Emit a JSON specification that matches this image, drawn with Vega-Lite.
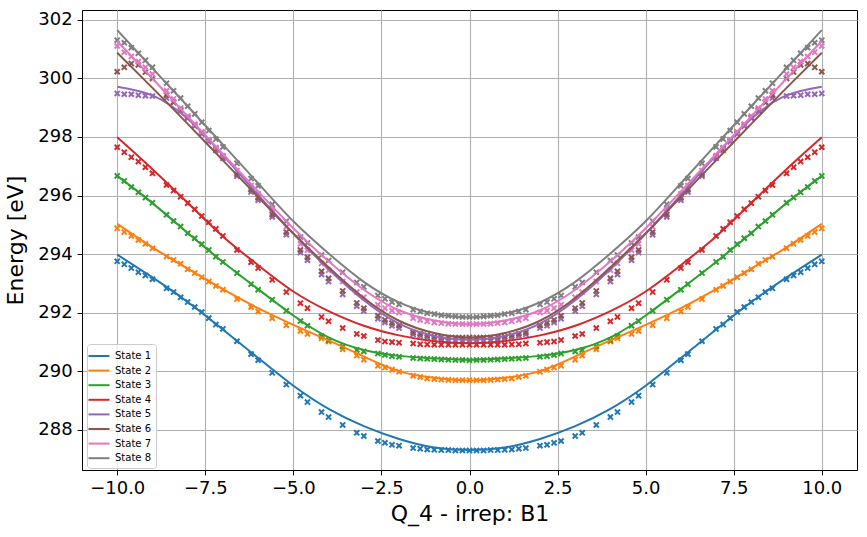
{
  "$schema": "https://vega.github.io/schema/vega-lite/v6.json",
  "width": 775,
  "height": 460,
  "autosize": "none",
  "padding": {"left": 82, "top": 10, "right": 10, "bottom": 67},
  "background": "white",
  "config": {
    "font": "DejaVu Sans",
    "view": {"stroke": "black", "strokeWidth": 1},
    "axis": {
      "labelFont": "DejaVu Sans", "labelFontSize": 18, "labelColor": "black",
      "tickColor": "black", "tickSize": 4.9, "tickWidth": 1, "labelPadding": 4.9,
      "domainColor": "black", "domainWidth": 1,
      "gridColor": "#b0b0b0", "gridWidth": 1.1, "gridOpacity": 1,
      "titleFont": "DejaVu Sans", "titleFontSize": 22, "titleFontWeight": "normal", "titleColor": "black"
    }
  },
  "datasets": {
    "points": [
      {"q": -10, "s1": 293.75, "s2": 294.88, "s3": 296.67, "s4": 297.65, "s5": 299.49, "s6": 300.23, "s7": 301.11, "s8": 301.31},
      {"q": -9.8, "s1": 293.65, "s2": 294.75, "s3": 296.50, "s4": 297.48, "s5": 299.46, "s6": 300.38, "s7": 300.90, "s8": 301.22},
      {"q": -9.6, "s1": 293.52, "s2": 294.62, "s3": 296.29, "s4": 297.31, "s5": 299.46, "s6": 300.51, "s7": 300.75, "s8": 301.05},
      {"q": -9.4, "s1": 293.38, "s2": 294.48, "s3": 296.11, "s4": 297.16, "s5": 299.43, "s6": 300.46, "s7": 300.58, "s8": 300.86},
      {"q": -9.2, "s1": 293.27, "s2": 294.35, "s3": 295.93, "s4": 296.97, "s5": 299.41, "s6": 300.22, "s7": 300.38, "s8": 300.62},
      {"q": -9.0, "s1": 293.14, "s2": 294.20, "s3": 295.75, "s4": 296.76, "s5": 299.40, "s6": 300.00, "s7": 300.15, "s8": 300.38},
      {"q": -8.6, "s1": 292.83, "s2": 293.92, "s3": 295.34, "s4": 296.36, "s5": 299.33, "s6": 299.43, "s7": 299.58, "s8": 299.84},
      {"q": -8.4, "s1": 292.70, "s2": 293.80, "s3": 295.13, "s4": 296.17, "s5": 299.20, "s6": 299.18, "s7": 299.30, "s8": 299.58},
      {"q": -8.2, "s1": 292.52, "s2": 293.67, "s3": 294.94, "s4": 295.96, "s5": 298.90, "s6": 298.93, "s7": 298.99, "s8": 299.33},
      {"q": -8.0, "s1": 292.36, "s2": 293.48, "s3": 294.71, "s4": 295.74, "s5": 298.64, "s6": 298.68, "s7": 298.72, "s8": 299.05},
      {"q": -7.8, "s1": 292.19, "s2": 293.35, "s3": 294.54, "s4": 295.53, "s5": 298.37, "s6": 298.42, "s7": 298.44, "s8": 298.79},
      {"q": -7.6, "s1": 292.02, "s2": 293.21, "s3": 294.34, "s4": 295.30, "s5": 298.10, "s6": 298.16, "s7": 298.17, "s8": 298.50},
      {"q": -7.4, "s1": 291.81, "s2": 293.06, "s3": 294.14, "s4": 295.09, "s5": 297.84, "s6": 297.90, "s7": 297.90, "s8": 298.22},
      {"q": -7.2, "s1": 291.59, "s2": 292.91, "s3": 293.91, "s4": 294.86, "s5": 297.54, "s6": 297.60, "s7": 297.64, "s8": 297.93},
      {"q": -7.0, "s1": 291.44, "s2": 292.78, "s3": 293.73, "s4": 294.62, "s5": 297.27, "s6": 297.33, "s7": 297.36, "s8": 297.66},
      {"q": -6.6, "s1": 291.02, "s2": 292.46, "s3": 293.35, "s4": 294.14, "s5": 296.66, "s6": 296.73, "s7": 296.85, "s8": 297.10},
      {"q": -6.2, "s1": 290.58, "s2": 292.19, "s3": 292.97, "s4": 293.72, "s5": 296.12, "s6": 296.20, "s7": 296.34, "s8": 296.58},
      {"q": -6.0, "s1": 290.37, "s2": 292.04, "s3": 292.78, "s4": 293.52, "s5": 295.84, "s6": 295.92, "s7": 296.06, "s8": 296.33},
      {"q": -5.6, "s1": 289.94, "s2": 291.81, "s3": 292.44, "s4": 293.12, "s5": 295.27, "s6": 295.35, "s7": 295.54, "s8": 295.70},
      {"q": -5.2, "s1": 289.54, "s2": 291.57, "s3": 292.06, "s4": 292.70, "s5": 294.66, "s6": 294.75, "s7": 294.93, "s8": 295.12},
      {"q": -4.8, "s1": 289.16, "s2": 291.37, "s3": 291.71, "s4": 292.32, "s5": 294.05, "s6": 294.14, "s7": 294.35, "s8": 294.58},
      {"q": -4.6, "s1": 288.94, "s2": 291.27, "s3": 291.55, "s4": 292.15, "s5": 293.79, "s6": 293.89, "s7": 294.13, "s8": 294.38},
      {"q": -4.2, "s1": 288.60, "s2": 291.12, "s3": 291.20, "s4": 291.85, "s5": 293.30, "s6": 293.41, "s7": 293.68, "s8": 293.97},
      {"q": -4.0, "s1": 288.43, "s2": 291.01, "s3": 291.05, "s4": 291.70, "s5": 293.06, "s6": 293.17, "s7": 293.45, "s8": 293.78},
      {"q": -3.6, "s1": 288.16, "s2": 290.75, "s3": 290.84, "s4": 291.47, "s5": 292.62, "s6": 292.74, "s7": 293.06, "s8": 293.38},
      {"q": -3.2, "s1": 287.89, "s2": 290.53, "s3": 290.72, "s4": 291.27, "s5": 292.22, "s6": 292.33, "s7": 292.70, "s8": 293.03},
      {"q": -3.0, "s1": 287.78, "s2": 290.39, "s3": 290.67, "s4": 291.20, "s5": 292.05, "s6": 292.15, "s7": 292.52, "s8": 292.88},
      {"q": -2.6, "s1": 287.61, "s2": 290.18, "s3": 290.60, "s4": 291.06, "s5": 291.79, "s6": 291.89, "s7": 292.27, "s8": 292.58},
      {"q": -2.4, "s1": 287.55, "s2": 290.12, "s3": 290.55, "s4": 291.01, "s5": 291.66, "s6": 291.75, "s7": 292.15, "s8": 292.47},
      {"q": -2.2, "s1": 287.48, "s2": 290.05, "s3": 290.51, "s4": 290.99, "s5": 291.55, "s6": 291.64, "s7": 292.07, "s8": 292.36},
      {"q": -2.0, "s1": 287.45, "s2": 289.98, "s3": 290.49, "s4": 290.97, "s5": 291.47, "s6": 291.56, "s7": 292.00, "s8": 292.28},
      {"q": -1.6, "s1": 287.37, "s2": 289.84, "s3": 290.45, "s4": 290.94, "s5": 291.25, "s6": 291.32, "s7": 291.81, "s8": 292.10},
      {"q": -1.4, "s1": 287.35, "s2": 289.80, "s3": 290.43, "s4": 290.92, "s5": 291.20, "s6": 291.27, "s7": 291.75, "s8": 292.04},
      {"q": -1.2, "s1": 287.32, "s2": 289.75, "s3": 290.42, "s4": 290.91, "s5": 291.15, "s6": 291.22, "s7": 291.70, "s8": 291.98},
      {"q": -1.0, "s1": 287.31, "s2": 289.73, "s3": 290.41, "s4": 290.90, "s5": 291.11, "s6": 291.18, "s7": 291.66, "s8": 291.95},
      {"q": -0.8, "s1": 287.30, "s2": 289.71, "s3": 290.40, "s4": 290.90, "s5": 291.08, "s6": 291.16, "s7": 291.64, "s8": 291.91},
      {"q": -0.6, "s1": 287.30, "s2": 289.70, "s3": 290.39, "s4": 290.90, "s5": 291.06, "s6": 291.15, "s7": 291.62, "s8": 291.89},
      {"q": -0.4, "s1": 287.29, "s2": 289.69, "s3": 290.38, "s4": 290.90, "s5": 291.05, "s6": 291.15, "s7": 291.61, "s8": 291.87},
      {"q": -0.2, "s1": 287.29, "s2": 289.69, "s3": 290.38, "s4": 290.90, "s5": 291.05, "s6": 291.15, "s7": 291.61, "s8": 291.85},
      {"q": 0, "s1": 287.29, "s2": 289.69, "s3": 290.37, "s4": 290.90, "s5": 291.05, "s6": 291.15, "s7": 291.61, "s8": 291.85},
      {"q": 0.2, "s1": 287.29, "s2": 289.69, "s3": 290.38, "s4": 290.90, "s5": 291.05, "s6": 291.15, "s7": 291.61, "s8": 291.85},
      {"q": 0.4, "s1": 287.29, "s2": 289.69, "s3": 290.38, "s4": 290.90, "s5": 291.05, "s6": 291.15, "s7": 291.61, "s8": 291.87},
      {"q": 0.6, "s1": 287.30, "s2": 289.70, "s3": 290.39, "s4": 290.90, "s5": 291.06, "s6": 291.15, "s7": 291.62, "s8": 291.89},
      {"q": 0.8, "s1": 287.30, "s2": 289.71, "s3": 290.40, "s4": 290.90, "s5": 291.08, "s6": 291.16, "s7": 291.64, "s8": 291.91},
      {"q": 1.0, "s1": 287.31, "s2": 289.73, "s3": 290.41, "s4": 290.90, "s5": 291.11, "s6": 291.18, "s7": 291.66, "s8": 291.95},
      {"q": 1.2, "s1": 287.32, "s2": 289.75, "s3": 290.42, "s4": 290.91, "s5": 291.15, "s6": 291.22, "s7": 291.70, "s8": 291.98},
      {"q": 1.4, "s1": 287.35, "s2": 289.80, "s3": 290.43, "s4": 290.92, "s5": 291.20, "s6": 291.27, "s7": 291.75, "s8": 292.04},
      {"q": 1.6, "s1": 287.37, "s2": 289.84, "s3": 290.45, "s4": 290.94, "s5": 291.25, "s6": 291.32, "s7": 291.81, "s8": 292.10},
      {"q": 2.0, "s1": 287.45, "s2": 289.98, "s3": 290.49, "s4": 290.97, "s5": 291.47, "s6": 291.56, "s7": 292.00, "s8": 292.28},
      {"q": 2.2, "s1": 287.48, "s2": 290.05, "s3": 290.51, "s4": 290.99, "s5": 291.55, "s6": 291.64, "s7": 292.07, "s8": 292.36},
      {"q": 2.4, "s1": 287.55, "s2": 290.12, "s3": 290.55, "s4": 291.01, "s5": 291.66, "s6": 291.75, "s7": 292.15, "s8": 292.47},
      {"q": 2.6, "s1": 287.61, "s2": 290.18, "s3": 290.60, "s4": 291.06, "s5": 291.79, "s6": 291.89, "s7": 292.27, "s8": 292.58},
      {"q": 3.0, "s1": 287.78, "s2": 290.39, "s3": 290.67, "s4": 291.20, "s5": 292.05, "s6": 292.15, "s7": 292.52, "s8": 292.88},
      {"q": 3.2, "s1": 287.89, "s2": 290.53, "s3": 290.72, "s4": 291.27, "s5": 292.22, "s6": 292.33, "s7": 292.70, "s8": 293.03},
      {"q": 3.6, "s1": 288.16, "s2": 290.75, "s3": 290.84, "s4": 291.47, "s5": 292.62, "s6": 292.74, "s7": 293.06, "s8": 293.38},
      {"q": 4.0, "s1": 288.43, "s2": 291.01, "s3": 291.05, "s4": 291.70, "s5": 293.06, "s6": 293.17, "s7": 293.45, "s8": 293.78},
      {"q": 4.2, "s1": 288.60, "s2": 291.12, "s3": 291.20, "s4": 291.85, "s5": 293.30, "s6": 293.41, "s7": 293.68, "s8": 293.97},
      {"q": 4.6, "s1": 288.94, "s2": 291.27, "s3": 291.55, "s4": 292.15, "s5": 293.79, "s6": 293.89, "s7": 294.13, "s8": 294.38},
      {"q": 4.8, "s1": 289.16, "s2": 291.37, "s3": 291.71, "s4": 292.32, "s5": 294.05, "s6": 294.14, "s7": 294.35, "s8": 294.58},
      {"q": 5.2, "s1": 289.54, "s2": 291.57, "s3": 292.06, "s4": 292.70, "s5": 294.66, "s6": 294.75, "s7": 294.93, "s8": 295.12},
      {"q": 5.6, "s1": 289.94, "s2": 291.81, "s3": 292.44, "s4": 293.12, "s5": 295.27, "s6": 295.35, "s7": 295.54, "s8": 295.70},
      {"q": 6.0, "s1": 290.37, "s2": 292.04, "s3": 292.78, "s4": 293.52, "s5": 295.84, "s6": 295.92, "s7": 296.06, "s8": 296.33},
      {"q": 6.2, "s1": 290.58, "s2": 292.19, "s3": 292.97, "s4": 293.72, "s5": 296.12, "s6": 296.20, "s7": 296.34, "s8": 296.58},
      {"q": 6.6, "s1": 291.02, "s2": 292.46, "s3": 293.35, "s4": 294.14, "s5": 296.66, "s6": 296.73, "s7": 296.85, "s8": 297.10},
      {"q": 7.0, "s1": 291.44, "s2": 292.78, "s3": 293.73, "s4": 294.62, "s5": 297.27, "s6": 297.33, "s7": 297.36, "s8": 297.66},
      {"q": 7.2, "s1": 291.59, "s2": 292.91, "s3": 293.91, "s4": 294.86, "s5": 297.54, "s6": 297.60, "s7": 297.64, "s8": 297.93},
      {"q": 7.4, "s1": 291.81, "s2": 293.06, "s3": 294.14, "s4": 295.09, "s5": 297.84, "s6": 297.90, "s7": 297.90, "s8": 298.22},
      {"q": 7.6, "s1": 292.02, "s2": 293.21, "s3": 294.34, "s4": 295.30, "s5": 298.10, "s6": 298.16, "s7": 298.17, "s8": 298.50},
      {"q": 7.8, "s1": 292.19, "s2": 293.35, "s3": 294.54, "s4": 295.53, "s5": 298.37, "s6": 298.42, "s7": 298.44, "s8": 298.79},
      {"q": 8.0, "s1": 292.36, "s2": 293.48, "s3": 294.71, "s4": 295.74, "s5": 298.64, "s6": 298.68, "s7": 298.72, "s8": 299.05},
      {"q": 8.2, "s1": 292.52, "s2": 293.67, "s3": 294.94, "s4": 295.96, "s5": 298.90, "s6": 298.93, "s7": 298.99, "s8": 299.33},
      {"q": 8.4, "s1": 292.70, "s2": 293.80, "s3": 295.13, "s4": 296.17, "s5": 299.20, "s6": 299.18, "s7": 299.30, "s8": 299.58},
      {"q": 8.6, "s1": 292.83, "s2": 293.92, "s3": 295.34, "s4": 296.36, "s5": 299.33, "s6": 299.43, "s7": 299.58, "s8": 299.84},
      {"q": 9.0, "s1": 293.14, "s2": 294.20, "s3": 295.75, "s4": 296.76, "s5": 299.40, "s6": 300.00, "s7": 300.15, "s8": 300.38},
      {"q": 9.2, "s1": 293.27, "s2": 294.35, "s3": 295.93, "s4": 296.97, "s5": 299.41, "s6": 300.22, "s7": 300.38, "s8": 300.62},
      {"q": 9.4, "s1": 293.38, "s2": 294.48, "s3": 296.11, "s4": 297.16, "s5": 299.43, "s6": 300.46, "s7": 300.58, "s8": 300.86},
      {"q": 9.6, "s1": 293.52, "s2": 294.62, "s3": 296.29, "s4": 297.31, "s5": 299.46, "s6": 300.51, "s7": 300.75, "s8": 301.05},
      {"q": 9.8, "s1": 293.65, "s2": 294.75, "s3": 296.50, "s4": 297.48, "s5": 299.46, "s6": 300.38, "s7": 300.90, "s8": 301.22},
      {"q": 10, "s1": 293.75, "s2": 294.88, "s3": 296.67, "s4": 297.65, "s5": 299.49, "s6": 300.23, "s7": 301.11, "s8": 301.31}
    ],
    "fits": [
      {"q": -10, "s1": 293.98, "s2": 295.03, "s3": 296.67, "s4": 297.99, "s5": 299.72, "s6": 300.88, "s7": 301.28, "s8": 301.65},
      {"q": -9, "s1": 293.20, "s2": 294.23, "s3": 295.74, "s4": 296.90, "s5": 299.42, "s6": 299.68, "s7": 300.00, "s8": 300.35},
      {"q": -8, "s1": 292.36, "s2": 293.50, "s3": 294.72, "s4": 295.75, "s5": 298.62, "s6": 298.45, "s7": 298.70, "s8": 299.05},
      {"q": -7, "s1": 291.42, "s2": 292.80, "s3": 293.73, "s4": 294.60, "s5": 297.38, "s6": 297.20, "s7": 297.42, "s8": 297.74},
      {"q": -6, "s1": 290.45, "s2": 292.15, "s3": 292.80, "s4": 293.62, "s5": 296.02, "s6": 295.95, "s7": 296.14, "s8": 296.42},
      {"q": -5, "s1": 289.50, "s2": 291.58, "s3": 291.90, "s4": 292.72, "s5": 294.70, "s6": 294.70, "s7": 294.88, "s8": 295.12},
      {"q": -4, "s1": 288.71, "s2": 291.05, "s3": 291.15, "s4": 292.05, "s5": 293.48, "s6": 293.55, "s7": 293.75, "s8": 294.02},
      {"q": -3, "s1": 288.12, "s2": 290.50, "s3": 290.72, "s4": 291.55, "s5": 292.42, "s6": 292.50, "s7": 292.78, "s8": 293.05},
      {"q": -2, "s1": 287.68, "s2": 290.00, "s3": 290.52, "s4": 291.22, "s5": 291.62, "s6": 291.72, "s7": 292.08, "s8": 292.35},
      {"q": -1, "s1": 287.39, "s2": 289.77, "s3": 290.43, "s4": 291.02, "s5": 291.20, "s6": 291.30, "s7": 291.73, "s8": 291.96},
      {"q": 0, "s1": 287.30, "s2": 289.68, "s3": 290.38, "s4": 290.95, "s5": 291.07, "s6": 291.15, "s7": 291.60, "s8": 291.84},
      {"q": 1, "s1": 287.39, "s2": 289.77, "s3": 290.43, "s4": 291.02, "s5": 291.20, "s6": 291.30, "s7": 291.73, "s8": 291.96},
      {"q": 2, "s1": 287.68, "s2": 290.00, "s3": 290.52, "s4": 291.22, "s5": 291.62, "s6": 291.72, "s7": 292.08, "s8": 292.35},
      {"q": 3, "s1": 288.12, "s2": 290.50, "s3": 290.72, "s4": 291.55, "s5": 292.42, "s6": 292.50, "s7": 292.78, "s8": 293.05},
      {"q": 4, "s1": 288.71, "s2": 291.05, "s3": 291.15, "s4": 292.05, "s5": 293.48, "s6": 293.55, "s7": 293.75, "s8": 294.02},
      {"q": 5, "s1": 289.50, "s2": 291.58, "s3": 291.90, "s4": 292.72, "s5": 294.70, "s6": 294.70, "s7": 294.88, "s8": 295.12},
      {"q": 6, "s1": 290.45, "s2": 292.15, "s3": 292.80, "s4": 293.62, "s5": 296.02, "s6": 295.95, "s7": 296.14, "s8": 296.42},
      {"q": 7, "s1": 291.42, "s2": 292.80, "s3": 293.73, "s4": 294.60, "s5": 297.38, "s6": 297.20, "s7": 297.42, "s8": 297.74},
      {"q": 8, "s1": 292.36, "s2": 293.50, "s3": 294.72, "s4": 295.75, "s5": 298.62, "s6": 298.45, "s7": 298.70, "s8": 299.05},
      {"q": 9, "s1": 293.20, "s2": 294.23, "s3": 295.74, "s4": 296.90, "s5": 299.42, "s6": 299.68, "s7": 300.00, "s8": 300.35},
      {"q": 10, "s1": 293.98, "s2": 295.03, "s3": 296.67, "s4": 297.99, "s5": 299.72, "s6": 300.88, "s7": 301.28, "s8": 301.65}
    ]
  },
  "encoding": {
    "x": {
      "field": "q", "type": "quantitative",
      "scale": {"domain": [-11, 11], "nice": false, "zero": false},
      "axis": {"values": [-10, -7.5, -5, -2.5, 0, 2.5, 5, 7.5, 10], "format": ".1f", "title": "Q_4 - irrep: B1", "titlePadding": 6}
    },
    "y": {
      "field": "energy", "type": "quantitative",
      "scale": {"domain": [286.62, 302.34], "nice": false, "zero": false},
      "axis": {"values": [288, 290, 292, 294, 296, 298, 300, 302], "format": "d", "title": "Energy [eV]", "titlePadding": 10}
    },
    "color": {
      "field": "state", "type": "nominal",
      "scale": {
        "domain": ["s1", "s2", "s3", "s4", "s5", "s6", "s7", "s8"],
        "range": ["#1f77b4", "#ff7f0e", "#2ca02c", "#d62728", "#9467bd", "#8c564b", "#e377c2", "#7f7f7f"]
      },
      "legend": {
        "title": null, "orient": "none", "legendX": 5, "legendY": 334,
        "labelExpr": "replace(datum.label, 's', 'State ')",
        "symbolType": "M-1.5,0H1.5", "symbolSize": 196, "symbolStrokeWidth": 2, "symbolFillColor": "transparent",
        "labelFont": "DejaVu Sans", "labelFontSize": 10, "labelColor": "black", "labelOffset": 8,
        "rowPadding": 1.6, "padding": 4,
        "strokeColor": "#cccccc", "fillColor": "rgba(255,255,255,0.8)", "cornerRadius": 3
      }
    }
  },
  "layer": [
    {
      "data": {"name": "points"},
      "transform": [{"fold": ["s1", "s2", "s3", "s4", "s5", "s6", "s7", "s8"], "as": ["state", "energy"]}],
      "mark": {"type": "point", "shape": "M-1,-1L1,1M-1,1L1,-1", "filled": false, "size": 26, "strokeWidth": 2, "opacity": 1, "clip": true}
    },
    {
      "data": {"name": "fits"},
      "transform": [{"fold": ["s1", "s2", "s3", "s4", "s5", "s6", "s7", "s8"], "as": ["state", "energy"]}],
      "mark": {"type": "line", "strokeWidth": 2, "interpolate": "natural", "clip": true}
    }
  ]
}
